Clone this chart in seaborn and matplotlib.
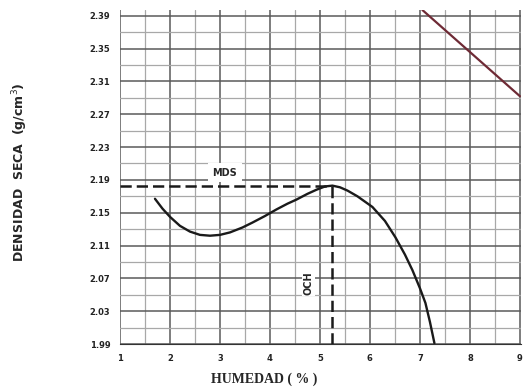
import numpy as np
import pandas as pd
import matplotlib
matplotlib.use("Agg")
import matplotlib.pyplot as plt
import seaborn as sns

# curva de compactacion (humedad %, densidad seca g/cm3)
humedad = [1.70, 1.85, 2.00, 2.20, 2.40, 2.60, 2.80, 3.00, 3.20, 3.45, 3.65,
           3.90, 4.13, 4.35, 4.53, 4.75, 4.93, 5.10, 5.25, 5.40, 5.55, 5.75,
           6.05, 6.30, 6.51, 6.70, 6.85, 7.00, 7.11, 7.20, 7.29]
densidad = [2.167, 2.155, 2.145, 2.134, 2.127, 2.123, 2.122, 2.123, 2.126, 2.132, 2.138,
            2.146, 2.154, 2.161, 2.166, 2.173, 2.178, 2.182, 2.183, 2.181, 2.177, 2.170,
            2.157, 2.140, 2.120, 2.099, 2.080, 2.058, 2.040, 2.017, 1.991]

# curva de saturacion
sat_humedad = [7.05, 9.0]
sat_densidad = [2.397, 2.292]

# punto optimo
och = 5.25
mds = 2.183

x_ticks = [1, 2, 3, 4, 5, 6, 7, 8, 9]
y_ticks = [1.99, 2.03, 2.07, 2.11, 2.15, 2.19, 2.23, 2.27, 2.31, 2.35, 2.39]

sns.set_style("white")

fig = plt.figure(figsize=(5.23, 3.92), dpi=100)
ax = fig.add_axes([0.2294, 0.1224, 0.7666, 0.852])

df = pd.DataFrame({"humedad": humedad, "densidad": densidad})
sat = pd.DataFrame({"humedad": sat_humedad, "densidad": sat_densidad})

ax.set_xlim(1, 9.02)
ax.set_ylim(1.99, 2.397)

# cuadricula
ax.set_xticks(x_ticks)
ax.set_xticks(np.arange(1.5, 9.0, 0.5), minor=True)
ax.set_yticks(y_ticks)
ax.set_yticks(np.arange(2.01, 2.40, 0.04), minor=True)
ax.grid(which="major", color="#5a5a5a", linewidth=1.1)
ax.grid(which="minor", color="#a8a8a8", linewidth=0.9)
ax.set_axisbelow(True)

sns.lineplot(data=df, x="humedad", y="densidad", ax=ax, color="#1a1a1a", linewidth=1.7)
sns.lineplot(data=sat, x="humedad", y="densidad", ax=ax, color="#6e2a35", linewidth=1.6)

# lineas del optimo
ax.plot([1, och], [mds, mds], color="#1a1a1a", linestyle=(0, (4.5, 2)), linewidth=1.8)
ax.plot([och, och], [1.99, mds], color="#1a1a1a", linestyle=(0, (4.5, 2)), linewidth=1.8)

ax.text(3.1, 2.199, "MDS", fontsize=7, fontweight="bold", ha="center", va="center",
        bbox=dict(facecolor="white", edgecolor="none", pad=3))
ax.text(4.77, 2.064, "OCH", fontsize=7, fontweight="bold", rotation=90,
        ha="center", va="center",
        bbox=dict(facecolor="white", edgecolor="none", pad=1))

ax.set_xticklabels([str(v) for v in x_ticks], fontsize=6, fontweight="bold")
ax.set_yticklabels([f"{v:.2f}" for v in y_ticks], fontsize=6, fontweight="bold")
ax.tick_params(axis="both", which="major", length=3, pad=4, colors="#222222")

for s in ax.spines.values():
    s.set_visible(False)
ax.spines["bottom"].set_visible(True)
ax.spines["bottom"].set_color("#333333")

ax.set_xlabel("HUMEDAD ( % )", fontsize=10, fontweight="bold", family="Liberation Serif")
ax.set_ylabel("DENSIDAD  SECA  (g/cm$^3$)", fontsize=9, fontweight="bold")
ax.xaxis.set_label_coords(0.36, -0.085)
ax.yaxis.set_label_coords(-0.225, 0.515)

fig.savefig("out.png", dpi=100)
